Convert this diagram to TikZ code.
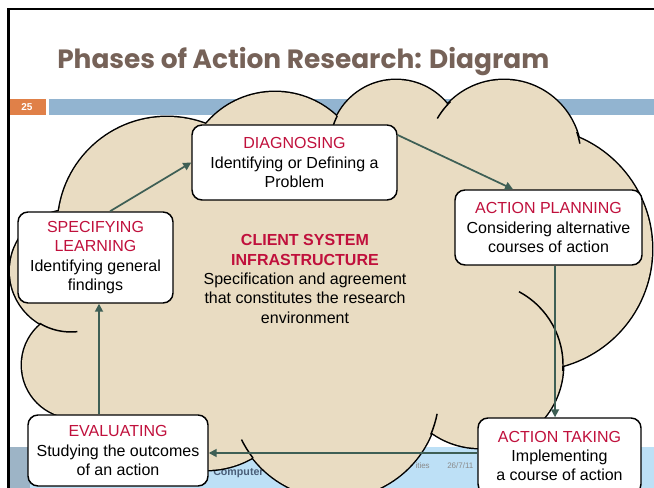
\documentclass[tikz,border=0pt]{standalone}
\usepackage{fontspec}
\setmainfont{Liberation Sans}
\newfontfamily\titlefont{Poppins}
\usetikzlibrary{arrows.meta}
\definecolor{cloudfill}{HTML}{E9DCC2}
\definecolor{barblue}{HTML}{92B4D0}
\definecolor{numorange}{HTML}{E08048}
\definecolor{footblue}{HTML}{BDE0F6}
\definecolor{footpatch}{HTML}{9DB4C6}
\definecolor{titlebrown}{HTML}{766258}
\definecolor{phasered}{HTML}{C0103C}
\definecolor{arrowgreen}{HTML}{3E5F55}
\definecolor{footgray}{HTML}{8A8A8A}
\definecolor{footnavy}{HTML}{4A5E78}
\begin{document}
\begin{tikzpicture}[x=0.75pt,y=-0.75pt,
  phase/.style={draw=black, line width=1.1pt, fill=white, rounded corners=7.5pt,
    inner sep=0pt, align=center, font=\fontsize{12}{14.6}\selectfont},
  arr/.style={draw=arrowgreen, line width=1.3pt, -{Triangle[length=6pt,width=6pt]}},
  cloudline/.style={draw=black, line width=1.1pt},
  red/.style={text=phasered}]
\useasboundingbox (0,0) rectangle (654,488);
\clip (0,0) rectangle (654,488);
\fill[white] (0,0) rectangle (654,488);
% slide frame
\draw[line width=2pt] (8.5,490) -- (8.5,9) -- (656,9);
% title
\node[anchor=base west, text=titlebrown, inner sep=0pt,
  font=\titlefont\bfseries\fontsize{19.8}{22}\selectfont] (title) at (57,69) {Phases of Action Research: Diagram};
% bars
\fill[numorange] (10,99) rectangle (46,115.5);
\node[text=white, font=\bfseries\fontsize{7.5}{8}\selectfont] (num) at (27,107.5) {25};
\fill[barblue] (49,99) rectangle (654,115.5);
% footer
\fill[footblue] (10,447) rectangle (654,488);
\fill[footpatch] (10,447) rectangle (30,488);
\node[anchor=base west, inner sep=0pt, text=footnavy, font=\bfseries\fontsize{8}{9}\selectfont] (f1) at (213,476) {Computer};
\node[anchor=base east, inner sep=0pt, text=footgray, font=\fontsize{6}{7}\selectfont] (f2) at (430,469) {ities};
\node[anchor=base west, inner sep=0pt, text=footgray, font=\fontsize{6}{7}\selectfont] (f3) at (447,469) {26/7/11};
% cloud: outline pass
\foreach \cx/\cy/\r in {167/226/109, 275/182/90, 396/146/66, 504/157/77, 531/249/121,
    480/365/83, 335/394/104, 206/377/93, 118/430/52, 75/365/53, 71/271/61}
  \draw[line width=2.2pt] (\cx,\cy) circle[radius=\r];
% cloud: fill pass
\foreach \cx/\cy/\r in {167/226/109, 275/182/90, 396/146/66, 504/157/77, 531/249/121,
    480/365/83, 335/394/104, 206/377/93, 118/430/52, 75/365/53, 71/271/61}
  \fill[cloudfill] (\cx,\cy) circle[radius=\r];
\fill[cloudfill] (167,226) -- (275,182) -- (396,146) -- (504,157) -- (531,249) -- (480,365)
  -- (335,394) -- (206,377) -- (118,430) -- (75,365) -- (71,271) -- cycle;
% cloud: interior arcs
\draw[cloudline] (504,157) ++(210:77) arc[start angle=210, end angle=226, radius=77];
\draw[cloudline] (504,157) ++(341:77) arc[start angle=341, end angle=350, radius=77];
\draw[cloudline] (396,146) ++(195:66) arc[start angle=195, end angle=207, radius=66];
\draw[cloudline] (480,365) ++(298:83) arc[start angle=298, end angle=364, radius=83];
\draw[cloudline] (335,394) ++(11:104) arc[start angle=11, end angle=23, radius=104];
\draw[cloudline] (335,394) ++(142:104) arc[start angle=142, end angle=154, radius=104];
\draw[cloudline] (71,271) ++(84:61) arc[start angle=84, end angle=121, radius=61];
% centre text
\node[align=center, inner sep=0pt, font=\fontsize{12}{14.6}\selectfont] (client) at (305,279)
  {\textcolor{phasered}{\bfseries CLIENT SYSTEM}\\\textcolor{phasered}{\bfseries INFRASTRUCTURE}\\
   Specification and agreement\\that constitutes the research\\environment};
% phase boxes
\node[phase, minimum width=153.75pt, minimum height=56.25pt] (diag) at (294.5,162.5)
  {\textcolor{phasered}{DIAGNOSING}\\Identifying or Defining a\\Problem};
\node[phase, minimum width=140.25pt, minimum height=56.25pt] (ap) at (548.5,227.5)
  {\textcolor{phasered}{ACTION PLANNING}\\Considering alternative\\courses of action};
\node[phase, minimum width=116.25pt, minimum height=68.25pt] (spec) at (95.5,257.5)
  {\textcolor{phasered}{SPECIFYING}\\\textcolor{phasered}{LEARNING}\\Identifying general\\findings};
\node[phase, minimum width=135pt, minimum height=53.25pt] (ev) at (118,450.5)
  {\textcolor{phasered}{EVALUATING}\\Studying the outcomes\\of an action};
\node[phase, minimum width=122.25pt, minimum height=57pt] (at) at (559.5,456)
  {\textcolor{phasered}{ACTION TAKING}\\Implementing\\a course of action};
% arrows
\draw[arr] ([xshift=10.9pt]spec.north) -- (diag.west);
\draw[arr] ([yshift=20.6pt]diag.east) -- ([xshift=-26.6pt]ap.north);
\coordinate (apx) at ([xshift=4.9pt]ap.south);
\draw[arr] (apx) -- (apx |- at.north);
\coordinate (atx) at ([yshift=2.25pt]at.west);
\draw[arr] (atx) -- (atx -| ev.east);
\coordinate (evx) at ([xshift=-14.25pt]ev.north);
\draw[arr] (evx) -- (evx |- spec.south);
\end{tikzpicture}
\end{document}
